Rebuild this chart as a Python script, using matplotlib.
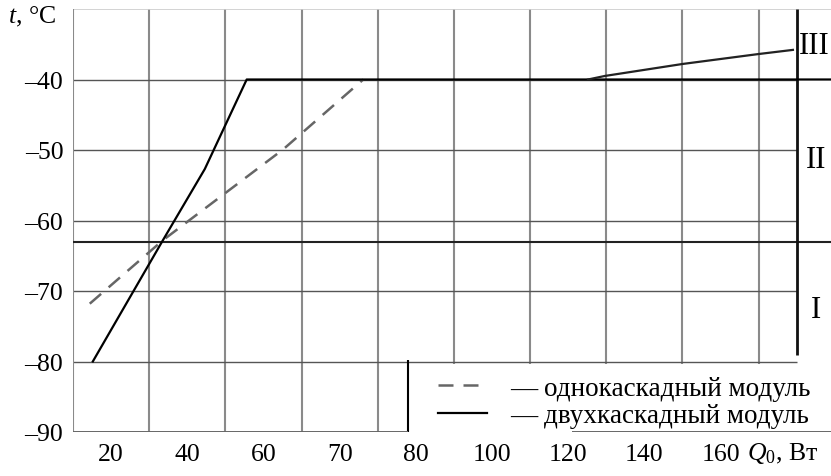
import numpy as np
import matplotlib.pyplot as plt
from matplotlib.patches import Rectangle

plt.rcParams['font.family'] = 'Liberation Serif'
plt.rcParams['mathtext.fontset'] = 'custom'
plt.rcParams['mathtext.rm'] = 'Liberation Serif'
plt.rcParams['mathtext.it'] = 'Liberation Serif:italic'

# x is measured in grid cells: the Q0 scale of the original is not linear
x_labels = ['20', '40', '60', '70', '80', '100', '120', '140', '160']
y_ticks = [-40, -50, -60, -70, -80, -90]

one_x = [0.22, 1.18, 2.76, 3.81]
one_t = [-71.8, -62.8, -49.9, -40.0]

two_x = [0.26, 1.18, 1.73, 2.28, 9.95]
two_t = [-80.0, -62.8, -52.7, -40.0, -40.0]

zone3_x = [6.76, 6.98, 8.0, 8.99, 9.45]
zone3_t = [-40.0, -39.5, -37.8, -36.4, -35.8]

boundary_low = -63
zone_edge = 9.5

W, H = 831, 477
fig = plt.figure(figsize=(W / 100, H / 100), dpi=100)
ax = fig.add_axes([73 / W, 1 - 433 / H, 758 / W, 423 / H])
ax.set_xlim(0, 9.95)
ax.set_ylim(-90, -30)
for s in ax.spines.values():
    s.set_visible(False)

# grid
ax.vlines(np.arange(1, 10), -90, -30, color='#8a8a8a', lw=1.5, zorder=1)
ax.hlines(y_ticks[:-1], 0, zone_edge, color='#555555', lw=1.0, zorder=1)
ax.axhline(-30, color='#cccccc', lw=1.2, zorder=1)
ax.axvline(0, color='#8a8a8a', lw=1.5, zorder=1)

# zone boundaries
ax.axhline(boundary_low, color='#222222', lw=1.5, zorder=2)
ax.vlines(zone_edge, -79.1, -30, color='#111111', lw=2.0, zorder=2)

ax.plot(one_x, one_t, color='#666666', lw=1.8, ls=(0, (6, 4)), zorder=2,
        label='— однокаскадный модуль')
ax.plot(two_x, two_t, color='black', lw=1.6, zorder=2,
        label='— двухкаскадный модуль')
ax.plot(zone3_x, zone3_t, color='#222222', lw=1.6, zorder=2)

# legend area
ax.add_patch(Rectangle((4.4, -90), 5.55, 9.7, facecolor='white',
                       edgecolor='none', zorder=3, clip_on=False))
ax.vlines(4.4, -90, -79.8, color='black', lw=1.5, zorder=4)
ax.hlines(-90, 0, 4.4, color='#666666', lw=1.4, zorder=4)
ax.hlines(-90, 6.55, 9.95, color='#666666', lw=1.4, zorder=4)

leg = ax.legend(loc='lower left', bbox_to_anchor=(438 / W, 1 - 429 / H),
                bbox_transform=fig.transFigure, frameon=False, fontsize=19.5,
                handlelength=1.8, handletextpad=0.85, labelspacing=0.08,
                borderpad=0, borderaxespad=0)
leg.set_zorder(5)

ax.set_xticks(np.arange(len(x_labels)) + 0.5, x_labels)
ax.set_yticks(y_ticks, [f'–{abs(v)}' for v in y_ticks])
ax.tick_params(length=0, labelsize=18.5)
ax.tick_params(axis='x', pad=8)
ax.tick_params(axis='y', pad=7)

fig.text(8 / W, 1 - 17 / H, r'$t$, °C', va='center', ha='left', fontsize=18.5)
fig.text(747 / W, 1 - 454 / H, r'$Q_{\mathrm{0}}$, Вт', va='center',
         ha='left', fontsize=18.5)
fig.text(814 / W, 1 - 46 / H, 'III', ha='center', va='center', fontsize=22)
fig.text(816 / W, 1 - 160 / H, 'II', ha='center', va='center', fontsize=22)
fig.text(816 / W, 1 - 310 / H, 'I', ha='center', va='center', fontsize=22)

fig.savefig('out.png', dpi=100)
